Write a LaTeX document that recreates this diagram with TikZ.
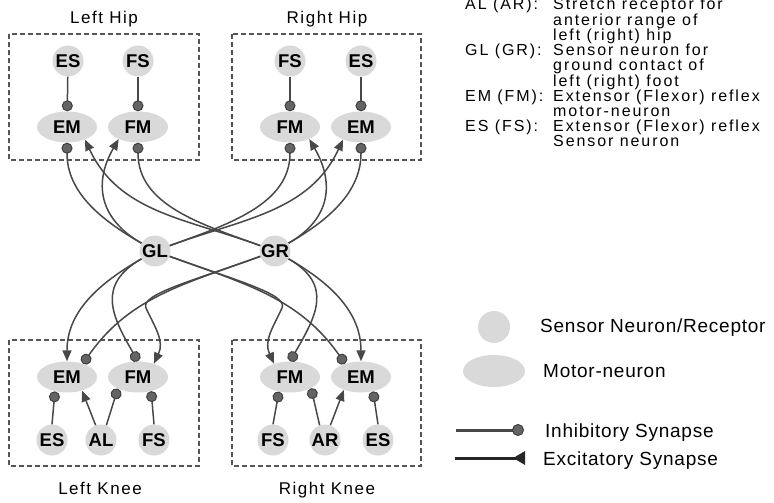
\documentclass[tikz,border=0pt]{standalone}
\usepackage{fontspec}
\setmainfont{Liberation Sans}
\newfontfamily\spacedfont[LetterSpace=9]{Liberation Sans}
\newfontfamily\listfont[LetterSpace=12]{Liberation Sans}
\newfontfamily\keyfont[LetterSpace=4]{Liberation Sans}
\usetikzlibrary{shapes.geometric,arrows.meta}
\definecolor{nodefill}{RGB}{217,217,217}
\definecolor{linegray}{RGB}{72,72,72}
\definecolor{dotfill}{RGB}{100,100,100}
\definecolor{dotedge}{RGB}{64,64,64}
\definecolor{boxgray}{RGB}{85,85,85}
\begin{document}
\begin{tikzpicture}[x=1pt, y=-1pt,
    neuron/.style={circle, fill=nodefill, minimum size=31pt, inner sep=0pt,
      font=\fontsize{18.5}{18}\selectfont\bfseries},
    motor/.style={ellipse, fill=nodefill, minimum width=60pt, minimum height=31pt,
      inner sep=0pt, font=\fontsize{18.5}{18}\selectfont\bfseries},
    inh/.style={draw=linegray, line width=1.5pt,
      -{Circle[length=11pt, fill=dotfill, color=dotedge, line width=1pt]}},
    exc/.style={draw=linegray, line width=1.5pt, -{Triangle[length=11pt, width=9pt]}},
    unitbox/.style={draw=boxgray, line width=1.1pt, dash pattern=on 5pt off 3pt},
    title/.style={anchor=base, inner sep=0pt, font=\spacedfont\fontsize{17}{17}\selectfont},
    legline/.style={anchor=base west, inner sep=0pt, font=\listfont\fontsize{16}{16}\selectfont},
    keytext/.style={anchor=base west, inner sep=0pt, font=\keyfont\fontsize{19}{19}\selectfont}]
    \useasboundingbox (0,0) rectangle (774,503);
    \draw[unitbox] (9,34) rectangle (199,160);
    \draw[unitbox] (232,34) rectangle (421,160);
    \draw[unitbox] (9,340) rectangle (199,466);
    \draw[unitbox] (232,340) rectangle (421,466);
    \node[title] (lhipT) at (104,24) {Left Hip};
    \node[title] (rhipT) at (327,24) {Right Hip};
    \node[title] (lkneeT) at (100,494) {Left Knee};
    \node[title] (rkneeT) at (327,494) {Right Knee};
    \node[neuron] (lhES) at (68,61) {ES};
    \node[neuron] (lhFS) at (138,61) {FS};
    \node[motor] (lhEM) at (67,127) {EM};
    \node[motor] (lhFM) at (138,127) {FM};
    \node[neuron] (rhFS) at (290,61) {FS};
    \node[neuron] (rhES) at (361,61) {ES};
    \node[motor] (rhFM) at (290,127) {FM};
    \node[motor] (rhEM) at (361,127) {EM};
    \node[neuron] (GL) at (155,251) {GL};
    \node[neuron] (GR) at (275,251) {GR};
    \node[motor] (lkEM) at (67,377) {EM};
    \node[motor] (lkFM) at (138,377) {FM};
    \node[neuron] (lkES) at (52,440) {ES};
    \node[neuron] (lkAL) at (101,440) {AL};
    \node[neuron] (lkFS) at (154,440) {FS};
    \node[motor] (rkFM) at (290,377) {FM};
    \node[motor] (rkEM) at (361,377) {EM};
    \node[neuron] (rkFS) at (273,440) {FS};
    \node[neuron] (rkAR) at (325,440) {AR};
    \node[neuron] (rkES) at (378,440) {ES};
    \coordinate (lkw) at (146,308);
    \coordinate (rkw) at (282,308);
    \path (lhES) edge [inh] (lhEM);
    \path (lhFS) edge [inh] (lhFM);
    \path (rhFS) edge [inh] (rhFM);
    \path (rhES) edge [inh] (rhEM);
    \path (GL.150) edge [inh, out=150, in=-90] (lhEM.south);
    \path (GL.150) edge [exc, out=150, in=-120, looseness=1.2] (lhFM.-148);
    \path (GR.160) edge [exc, out=160, in=-65] (lhEM.-35);
    \path (GR.160) edge [inh, out=160, in=-90] (lhFM.south);
    \path (GL.20) edge [inh, out=20, in=-90] (rhFM.south);
    \path (GL.20) edge [exc, out=20, in=-115] (rhEM.-145);
    \path (GR.30) edge [inh, out=30, in=-90] (rhEM.south);
    \path (GR.30) edge [exc, out=30, in=-60, looseness=1.2] (rhFM.-32);
    \path (GL.-150) edge [exc, out=-150, in=90] (lkEM.north);
    \path (GL.-150) edge [inh, out=-150, in=120, looseness=1.3] (lkFM.north);
    \path (GR.-160) edge [inh, out=-160, in=55] (lkEM.40);
    \draw[exc] (GR.-160) .. controls +(-160:70pt) and +(115:15pt) .. (lkw)
      .. controls +(-65:22pt) and +(65:25pt) .. (lkFM.40);
    \path (GR.-30) edge [exc, out=-30, in=90] (rkEM.north);
    \path (GR.-30) edge [inh, out=-30, in=60, looseness=1.3] (rkFM.north);
    \path (GL.-20) edge [inh, out=-20, in=125] (rkEM.140);
    \draw[exc] (GL.-20) .. controls +(-20:70pt) and +(65:15pt) .. (rkw)
      .. controls +(-115:22pt) and +(115:25pt) .. (rkFM.140);
    \path (lkES.north) edge [inh] (lkEM.-130);
    \path (lkAL.110) edge [exc] (lkEM.-42);
    \path (lkAL.70) edge [inh] (lkFM.-150);
    \path (lkFS.north) edge [inh] (lkFM.-47);
    \path (rkFS.north) edge [inh] (rkFM.-127);
    \path (rkAR.110) edge [inh] (rkFM.-28);
    \path (rkAR.70) edge [exc] (rkEM.-143);
    \path (rkES.north) edge [inh] (rkEM.-50);
    \foreach \key/\txt [count=\i from 0] in {AL (AR):/Stretch receptor for,
        /anterior range of, /left (right) hip, GL (GR):/Sensor neuron for,
        /ground contact of, /left (right) foot, EM (FM):/Extensor (Flexor) reflex,
        /motor-neuron, ES (FS):/Extensor (Flexor) reflex, /Sensor neuron} {
      \node[legline] (keyK\i) at (465,10+15.2*\i) {\key};
      \node[legline] (keyT\i) at (553,10+15.2*\i) {\txt};
    }
    \node[neuron, minimum size=32pt] (legSensor) at (494,327) {};
    \node[motor, minimum width=62pt, minimum height=32pt] (legMotor) at (494,371) {};
    \node[keytext] (legSensorT) at (540,332) {Sensor Neuron/Receptor};
    \node[keytext] (legMotorT) at (543,377) {Motor-neuron};
    \node[keytext] (legInhT) at (545,437) {Inhibitory Synapse};
    \node[keytext] (legExcT) at (543,465) {Excitatory Synapse};
    \coordinate (inhA) at (456,430);
    \coordinate (inhB) at (524,430);
    \coordinate (excA) at (455,458);
    \coordinate (excB) at (525,458);
    \path (inhA) edge [draw=linegray, line width=3pt,
      -{Circle[length=12pt, fill=dotfill, color=dotedge, line width=1pt]}] (inhB);
    \path (excA) edge [draw=black!85, line width=3pt,
      -{Triangle[reversed, length=12pt, width=13pt]}] (excB);
\end{tikzpicture}
\end{document}
